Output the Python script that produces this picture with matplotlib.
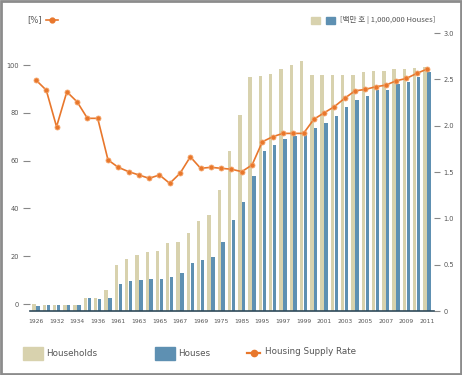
import matplotlib
matplotlib.use("Agg")
import matplotlib.pyplot as plt
from matplotlib.patches import Rectangle
from matplotlib.lines import Line2D
import numpy as np

# x labels (one label per two bar groups)
tick_labels = ["1926", "1932", "1934", "1936", "1961", "1963", "1965", "1967", "1969", "1975",
               "1985", "1995", "1997", "1999", "2001", "2003", "2005", "2007", "2009", "2011"]

# households / houses (1,000,000) - right axis
households = [0.08, 0.07, 0.07, 0.07, 0.07, 0.14, 0.14, 0.23, 0.50, 0.56,
              0.60, 0.64, 0.65, 0.73, 0.75, 0.84, 0.97, 1.04, 1.31, 1.73,
              2.12, 2.52, 2.54, 2.56, 2.61, 2.65, 2.70, 2.55, 2.55, 2.55,
              2.55, 2.55, 2.58, 2.59, 2.59, 2.61, 2.61, 2.62, 2.63]
houses = [0.05, 0.06, 0.06, 0.06, 0.07, 0.14, 0.13, 0.14, 0.29, 0.32,
          0.33, 0.34, 0.35, 0.37, 0.41, 0.52, 0.55, 0.58, 0.75, 0.98,
          1.18, 1.46, 1.73, 1.79, 1.86, 1.89, 1.90, 1.97, 2.03, 2.10,
          2.20, 2.28, 2.32, 2.38, 2.39, 2.45, 2.47, 2.52, 2.58]

# housing supply rate (%) - left axis
supply_rate = [93.7, 89.5, 74.2, 88.8, 84.6, 77.7, 77.7, 60.3, 57.2, 55.4,
               54.0, 52.6, 54.0, 50.5, 54.7, 61.6, 56.8, 57.2, 56.8, 56.4,
               55.4, 58.2, 67.9, 70.0, 71.4, 71.4, 71.4, 77.3, 80.0, 82.6,
               86.1, 89.2, 89.8, 90.9, 91.6, 93.4, 94.4, 96.5, 98.3]

C_HH = "#d8d2ae"
C_HOUSE = "#5e90b2"
C_LINE = "#e8772c"
C_TEXT = "#555555"
C_TICK = "#888888"

W, H = 462, 375
fig = plt.figure(figsize=(W / 100, H / 100), dpi=100)
fig.patch.set_facecolor("white")

ax = fig.add_axes([30 / W, 1 - 311 / H, 404 / W, 278 / H])
ax2 = ax.twinx()

x = np.arange(len(houses))
bw = 0.33
ax.bar(x - 0.19, households, width=bw, color=C_HH, zorder=2)
ax.bar(x + 0.19, houses, width=bw, color=C_HOUSE, zorder=2)
ax.set_ylim(0, 3.0)
ax.set_xlim(-0.58, 38.68)

ax2.plot(x, supply_rate, color=C_LINE, lw=1.2, marker="o", ms=3.6,
         mfc=C_LINE, mec="#f4a46a", mew=0.6, zorder=5)
ax2.set_ylim(-2.9, 113.4)

# right axis ticks on ax (bars), left axis on ax2 (line)
ax.yaxis.tick_right()
ax.set_yticks([0, 0.5, 1.0, 1.5, 2.0, 2.5, 3.0])
ax.set_yticklabels(["0", "0.5", "1.0", "1.5", "2.0", "2.5", "3.0"])
ax2.yaxis.tick_left()
ax2.set_yticks([0, 20, 40, 60, 80, 100])

for a in (ax, ax2):
    for s in ("top", "left", "right", "bottom"):
        a.spines[s].set_visible(False)
ax.spines["bottom"].set_visible(True)
ax.spines["bottom"].set_color("#2f4a5a")
ax.spines["bottom"].set_linewidth(1.2)

ax.tick_params(axis="y", length=4, width=0.8, color=C_TICK, labelsize=4.8,
               labelcolor=C_TEXT, pad=3)
ax2.tick_params(axis="y", length=5, width=0.8, color=C_TICK, labelsize=4.8,
                labelcolor=C_TEXT, pad=3)

ax.set_xticks(np.arange(0, len(houses), 2))
ax.set_xticklabels(tick_labels)
ax.tick_params(axis="x", length=0, labelsize=4.3, labelcolor=C_TEXT, pad=6)

# top-left unit label
fig.text(27 / W, 1 - 20 / H, "[%]", fontsize=6, color=C_TEXT, va="center", ha="left")
fig.add_artist(Line2D([46 / W, 58 / W], [1 - 20 / H, 1 - 20 / H], color=C_LINE, lw=1.2,
                      transform=fig.transFigure))
fig.add_artist(Line2D([52 / W], [1 - 20 / H], color=C_LINE, lw=0,
                      marker="o", ms=3.5, transform=fig.transFigure))

# top-right unit label
fig.add_artist(Rectangle((311 / W, 1 - 24 / H), 9 / W, 7 / H, color=C_HH, transform=fig.transFigure))
fig.add_artist(Rectangle((326 / W, 1 - 24 / H), 9 / W, 7 / H, color=C_HOUSE, transform=fig.transFigure))
fig.text(340 / W, 1 - 20 / H, "[백만 호 | 1,000,000 Houses]", fontsize=5.5, color=C_TEXT,
         va="center", ha="left", family=["Noto Sans CJK KR", "DejaVu Sans"])

# bottom legend
ly = 1 - 353 / H
fig.add_artist(Rectangle((23 / W, 1 - 360 / H), 20 / W, 13 / H, color=C_HH, transform=fig.transFigure))
fig.text(46 / W, ly, "Households", fontsize=6.3, color=C_TEXT, va="center", ha="left")
fig.add_artist(Rectangle((155 / W, 1 - 360 / H), 20 / W, 13 / H, color=C_HOUSE, transform=fig.transFigure))
fig.text(178 / W, ly, "Houses", fontsize=6.3, color=C_TEXT, va="center", ha="left")
fig.add_artist(Line2D([247 / W, 260 / W], [ly, ly], color=C_LINE, lw=1.6, transform=fig.transFigure))
fig.add_artist(Line2D([253.5 / W], [ly], color=C_LINE, lw=0, marker="o", ms=4.5,
                      transform=fig.transFigure))
fig.text(265 / W, 1 - 351 / H, "Housing Supply Rate", fontsize=6.3, color=C_TEXT, va="center", ha="left")

# outer frame
fig.add_artist(Rectangle((0.002, 0.003), 0.996, 0.994, fill=False, ec="#8c8c8c", lw=2,
                         transform=fig.transFigure))

fig.savefig("out.png", dpi=100)
